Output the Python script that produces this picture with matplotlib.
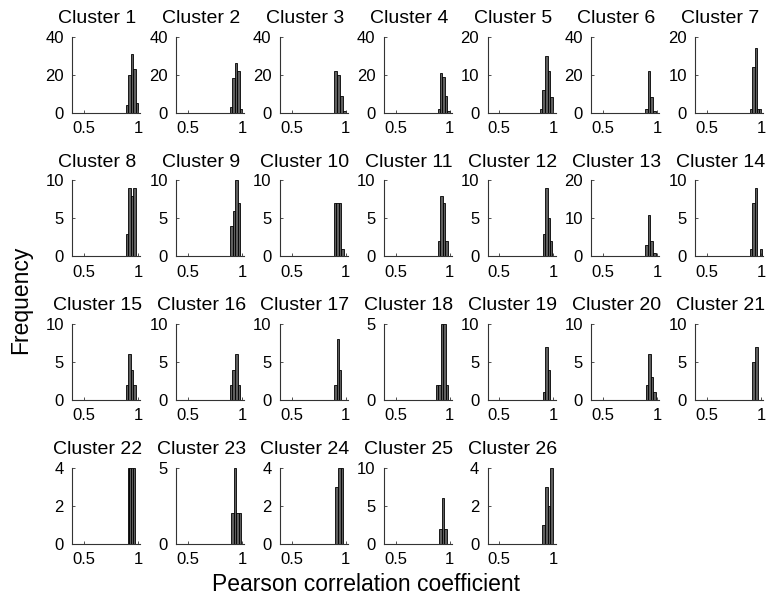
import matplotlib
matplotlib.use("Agg")
import matplotlib.pyplot as plt

plt.rcParams['font.family'] = ['Liberation Sans', 'DejaVu Sans']

# histogram data per cluster
cluster_names = ["Cluster %d" % (i + 1) for i in range(26)]
bin_starts = [0.888, 0.890, 0.895, 0.890, 0.872, 0.890, 0.900,
              0.887, 0.893, 0.890, 0.893, 0.900, 0.890, 0.895,
              0.887, 0.887, 0.893, 0.872, 0.900, 0.893, 0.915,
              0.902, 0.902, 0.902, 0.902, 0.898]
bin_widths = [0.0225, 0.022, 0.026, 0.022, 0.025, 0.024, 0.021,
              0.023, 0.023, 0.023, 0.023, 0.023, 0.024, 0.023,
              0.023, 0.024, 0.022, 0.023, 0.023, 0.023, 0.031,
              0.017, 0.023, 0.025, 0.024, 0.025]
counts = [
    [4, 20, 31, 23, 5],
    [3, 18, 26, 22, 2],
    [22, 20, 9, 1],
    [2, 21, 19, 9, 1],
    [1, 6, 15, 11, 4],
    [2, 22, 8, 1],
    [1, 12, 17, 1, 1],
    [3, 9, 8, 9],
    [4, 6, 10, 7],
    [7, 7, 7, 1],
    [2, 8, 7, 2],
    [3, 9, 5, 2],
    [3, 11, 4, 1],
    [1, 7, 9, 0, 1],
    [2, 6, 4, 2],
    [2, 4, 6, 2],
    [2, 8, 4],
    [1, 1, 5, 5, 1],
    [1, 7, 4],
    [2, 6, 3, 1],
    [5, 7],
    [4, 4, 4, 4],
    [2, 5, 2, 2],
    [3, 4, 4],
    [2, 6, 2],
    [1, 3, 2, 4],
]
y_max = [40, 40, 40, 40, 20, 40, 20,
         10, 10, 10, 10, 10, 20, 10,
         10, 10, 10, 5, 10, 10, 10,
         4, 5, 4, 10, 4]
x_ticks = [0.5, 1.0]
x_ticklabels = ["0.5", "1"]

W, H = 783, 604
fig = plt.figure(figsize=(W / 100, H / 100), dpi=100)

col_left0, col_step, ax_w = 72.3, 103.8, 68
row_top0, row_step, ax_h = 36.7, 143.7, 76

for k, name in enumerate(cluster_names):
    r, c = divmod(k, 7)
    left = col_left0 + c * col_step
    top = row_top0 + r * row_step
    ax = fig.add_axes([left / W, 1 - (top + ax_h) / H, ax_w / W, ax_h / H])

    w = bin_widths[k]
    xs = [bin_starts[k] + i * w for i in range(len(counts[k]))]
    ax.bar(xs, counts[k], width=w, align='edge', color='#5e5e5e',
           edgecolor='black', linewidth=0.6)

    ax.set_xlim(0.39, 1.02)
    ax.set_ylim(0, y_max[k])
    ax.set_xticks(x_ticks)
    ax.set_xticklabels(x_ticklabels)
    if y_max[k] == 5:
        ax.set_yticks([0, 5])
    else:
        ax.set_yticks([0, y_max[k] / 2, y_max[k]])
    ax.set_yticklabels(["%g" % v for v in ax.get_yticks()])

    for s in ['top', 'right']:
        ax.spines[s].set_visible(False)
    for s in ['left', 'bottom']:
        ax.spines[s].set_color('#333333')
        ax.spines[s].set_linewidth(0.8)
    ax.tick_params(direction='in', length=2.5, width=0.6, colors='#333333',
                   labelcolor='black', labelsize=12, pad=6)

    ax.text(0.37, 1.18, name, transform=ax.transAxes, ha='center',
            va='baseline', fontsize=14)

fig.text(0.468, 0.033, "Pearson correlation coefficient", ha='center',
         va='center', fontsize=16.5)
fig.text(0.026, 0.503, "Frequency", ha='center', va='center',
         rotation=90, fontsize=16.5)

fig.savefig("out.png", dpi=100)
